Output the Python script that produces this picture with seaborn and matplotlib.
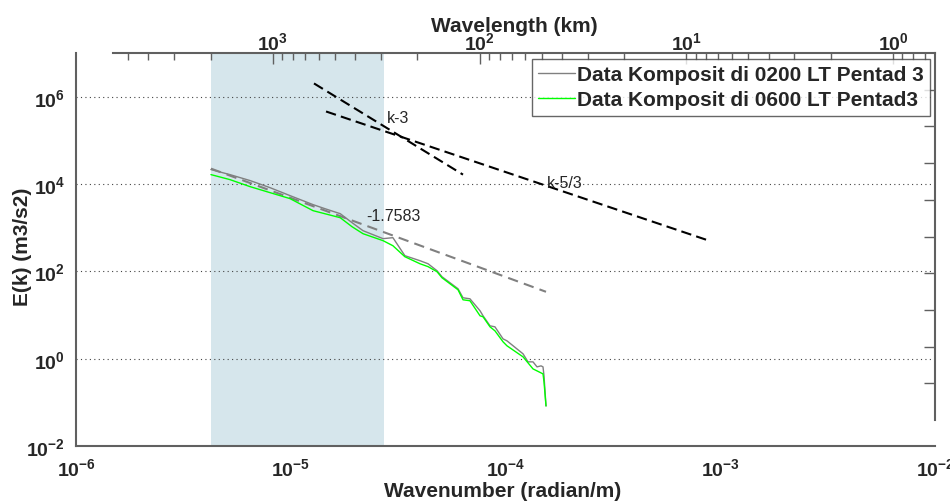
import numpy as np
import pandas as pd
import matplotlib
matplotlib.use("Agg")
import matplotlib.pyplot as plt
import seaborn as sns
from matplotlib.ticker import FixedLocator, FuncFormatter, NullFormatter, NullLocator, LogLocator

# ---------------- data ----------------
wavenumber = [4.25e-6, 5.21e-6, 6.46e-6, 8.00e-6, 9.92e-6, 1.27e-5, 1.44e-5, 1.70e-5,
              1.93e-5, 2.17e-5, 2.69e-5, 2.99e-5, 3.40e-5, 4.00e-5, 4.36e-5, 4.80e-5,
              5.06e-5, 6.01e-5, 6.34e-5, 6.83e-5, 7.61e-5, 7.86e-5, 8.47e-5, 8.93e-5,
              9.74e-5, 1.016e-4, 1.207e-4, 1.273e-4, 1.343e-4, 1.402e-4, 1.464e-4,
              1.495e-4, 1.511e-4, 1.544e-4]
energy_0200 = [2.14e4, 1.64e4, 1.20e4, 8.26e3, 5.42e3, 3.37e3, 2.73e3, 2.09e3, 1.30e3,
               853, 560, 590, 228, 175, 149, 103, 75.2, 39.9, 24.8, 23.5, 12.5, 9.59,
               5.65, 5.36, 2.84, 2.56, 1.29, 0.845, 0.845, 0.649, 0.684, 0.649, 0.404,
               0.0826]
energy_0600 = [1.64e4, 1.26e4, 8.71e3, 6.35e3, 4.63e3, 2.45e3, 2.09e3, 1.69e3, 1.05e3,
               728, 504, 386, 216, 149, 128, 97.9, 71.3, 37.8, 22.3, 21.2, 9.59, 9.10,
               5.36, 4.34, 2.43, 1.97, 1.10, 0.802, 0.583, 0.525, 0.472, 0.448, 0.294,
               0.0826]
series_labels = ["Data Komposit di 0200 LT Pentad 3", "Data Komposit di 0600 LT Pentad3"]
series_colors = ["#808080", "#00ff00"]

fit_k = [4.25e-6, 1.544e-4]
fit_E = [2.25e4, 34.0]
fit_label = "-1.7583"
fit_label_pos = (2.24e-5, 1.88e3)

k3_k = [1.283e-5, 6.34e-5]
k3_E = [2.01e6, 1.64e4]
k3_label = "k-3"
k3_label_pos = (2.81e-5, 3.33e5)

k53_k = [1.46e-5, 8.86e-4]
k53_E = [4.58e5, 504]
k53_label = "k-5/3"
k53_label_pos = (1.56e-4, 1.08e4)

shade_k = [4.25e-6, 2.72e-5]

x_ticks = [1e-6, 1e-5, 1e-4, 1e-3, 1e-2]
y_ticks = [1e-2, 1e0, 1e2, 1e4, 1e6]
wl_ticks = [1e3, 1e2, 1e1, 1e0]
wl_limits = (5940, 0.626)

# ---------------- style ----------------
sns.set_theme(style="white")
plt.rcParams['font.family'] = ['Liberation Sans', 'DejaVu Sans']
plt.rcParams['mathtext.fontset'] = 'custom'
plt.rcParams['mathtext.rm'] = 'Liberation Sans'
plt.rcParams['mathtext.bf'] = 'Liberation Sans:bold'

spine_col = '#606060'
TICK_FS = 14
LABEL_FS = 15
W, H = 950, 502
fig = plt.figure(figsize=(9.5, 5.02), dpi=100)
ax = fig.add_axes([76 / W, (H - 447) / H, 859 / W, 393 / H])

df = pd.concat([
    pd.DataFrame({'k': wavenumber, 'E': energy_0200, 'series': series_labels[0]}),
    pd.DataFrame({'k': wavenumber, 'E': energy_0600, 'series': series_labels[1]}),
])
ax.set_xscale('log')
ax.set_yscale('log')
ax.axvspan(shade_k[0], shade_k[1], color='#d6e6ec', lw=0, zorder=0.5)
sns.lineplot(data=df, x='k', y='E', hue='series', palette=series_colors, ax=ax,
             lw=1.0, legend=False, sort=False, estimator=None, zorder=3)
ax.plot(fit_k, fit_E, color='#808080', lw=1.5, dashes=(5, 3), zorder=2)
ax.plot(k3_k, k3_E, color='black', lw=1.5, dashes=(5, 2.5), zorder=2)
ax.plot(k53_k, k53_E, color='black', lw=1.5, dashes=(5, 2.5), zorder=2)

ax.text(*k3_label_pos, k3_label, fontsize=11.5, va='center', ha='left')
ax.text(*k53_label_pos, k53_label, fontsize=11.5, va='center', ha='left')
ax.text(*fit_label_pos, fit_label, fontsize=11.5, va='center', ha='left')

ax.set_xlim(1e-6, 1e-2)
ax.set_ylim(1e-2, 1e7)

fmt = FuncFormatter(lambda v, p: r'$\mathbf{10^{%d}}$' % int(round(np.log10(v))))
ax.xaxis.set_major_locator(FixedLocator(x_ticks))
ax.xaxis.set_minor_locator(LogLocator(base=10, subs=np.arange(2, 10)))
ax.xaxis.set_major_formatter(fmt)
ax.xaxis.set_minor_formatter(NullFormatter())
ax.yaxis.set_major_locator(FixedLocator(y_ticks))
ax.yaxis.set_minor_locator(NullLocator())
ax.yaxis.set_major_formatter(fmt)

ax.tick_params(which='major', direction='in', length=8, width=1, color=spine_col,
               labelsize=TICK_FS, top=False, right=False)
ax.tick_params(axis='x', which='major', pad=8)
ax.tick_params(axis='y', which='major', pad=8)
ax.tick_params(which='minor', direction='in', length=5, width=1, color=spine_col,
               top=False, right=False)
ax.yaxis.grid(True, which='major', linestyle=(0, (1, 3)), color='#444444', lw=0.8)
ax.xaxis.grid(False)
for s in ['top', 'right']:
    ax.spines[s].set_visible(False)
for s in ['left', 'bottom']:
    ax.spines[s].set_color(spine_col)
    ax.spines[s].set_linewidth(1.5)

ax.set_xlabel("Wavenumber (radian/m)", fontsize=LABEL_FS, fontweight='bold')
ax.xaxis.set_label_coords(0.497, -0.088)
ax.set_ylabel("E(k) (m3/s2)", fontsize=LABEL_FS, fontweight='bold')
ax.yaxis.set_label_coords(-0.051, 0.51)

# top wavelength axis
ax2 = fig.add_axes([113 / W, (H - 421) / H, 822 / W, 367 / H])
ax2.patch.set_visible(False)
ax2.set_xscale('log')
ax2.set_xlim(*wl_limits)
ax2.set_ylim(0, 1)
ax2.xaxis.tick_top()
ax2.xaxis.set_label_position('top')
ax2.yaxis.tick_right()
ax2.xaxis.set_major_locator(FixedLocator(wl_ticks))
ax2.xaxis.set_minor_locator(LogLocator(base=10, subs=np.arange(2, 10)))
ax2.xaxis.set_major_formatter(fmt)
ax2.xaxis.set_minor_formatter(NullFormatter())
ax2.yaxis.set_major_locator(FixedLocator(np.arange(1, 10) / 10))
ax2.yaxis.set_major_formatter(NullFormatter())
ax2.tick_params(which='major', direction='in', length=8, width=1, color=spine_col,
                labelsize=TICK_FS, bottom=False, left=False, pad=0)
ax2.tick_params(which='minor', direction='in', length=5, width=1, color=spine_col,
                bottom=False, left=False)
for s in ['left', 'bottom']:
    ax2.spines[s].set_visible(False)
for s in ['top', 'right']:
    ax2.spines[s].set_color(spine_col)
    ax2.spines[s].set_linewidth(1.5)
ax2.set_xlabel("Wavelength (km)", fontsize=LABEL_FS, fontweight='bold')
ax2.xaxis.set_label_coords(0.488, 1.06)

handles = ax.get_lines()[:2]
leg = ax2.legend(handles, series_labels, loc='upper right',
                 bbox_to_anchor=(930 / W, 1 - 60 / H), bbox_transform=fig.transFigure,
                 frameon=True, fancybox=False, edgecolor='#404040',
                 prop={'weight': 'bold', 'size': 15}, handlelength=1.75,
                 handletextpad=0.1, borderpad=0.3, labelspacing=0.3, borderaxespad=0)
leg.get_frame().set_linewidth(1.0)

fig.savefig('out.png', dpi=100)
